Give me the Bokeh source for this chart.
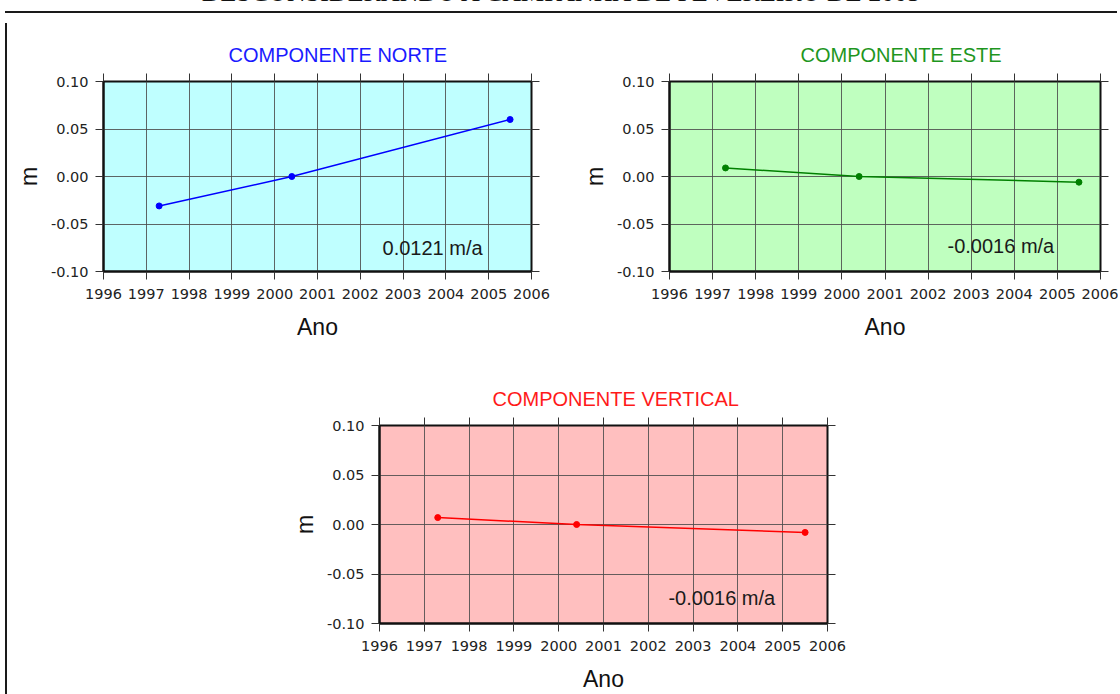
from bokeh.plotting import figure
from bokeh.models import (Range1d, FixedTicker, PrintfTickFormatter, LinearAxis, Label, Div,
                          ColumnDataSource, CustomJSTickFormatter)
from bokeh.layouts import column, row
from bokeh.embed import file_html
from bokeh.resources import INLINE

# ---------------- data ----------------
page_title = "DESCONSIDERANDO A CAMPANHA DE FEVEREIRO DE 2005"
x_ticks = [1996, 1997, 1998, 1999, 2000, 2001, 2002, 2003, 2004, 2005, 2006]
y_ticks = [-0.10, -0.05, 0.00, 0.05, 0.10]
years = [1997.3, 2000.4, 2005.5]
norte = [-0.031, 0.000, 0.060]
este = [0.009, 0.000, -0.006]
vertical = [0.007, 0.000, -0.008]
rates = ["0.0121 m/a", "-0.0016 m/a", "-0.0016 m/a"]
titles = ["COMPONENTE NORTE", "COMPONENTE ESTE", "COMPONENTE VERTICAL"]
x_label = "Ano"
y_label = "m"

SANS = "Liberation Sans"
TICKFONT = "DejaVu Sans"


def panel(title, tcolor, bg, lcolor, ys, rate, width, height, bl, br, bt, bb,
          toff, rate_pos):
    p = figure(width=width, height=height, x_range=Range1d(1996, 2006),
               y_range=Range1d(-0.10, 0.10), output_backend="svg",
               toolbar_location=None, min_border_left=bl, min_border_right=br,
               min_border_top=bt, min_border_bottom=bb)
    p.background_fill_color = bg
    p.border_fill_color = "white"
    p.outline_line_color = "#111111"
    p.outline_line_width = 2
    p.title.text = title
    p.title.align = "left"
    p.title.offset = toff
    p.title.text_color = tcolor
    p.title.text_font = SANS
    p.title.text_font_size = "20px"
    p.title.text_font_style = "normal"
    p.title.standoff = 16

    xa = p.xaxis[0]
    ya = p.yaxis[0]
    xa.ticker = FixedTicker(ticks=x_ticks)
    ya.ticker = FixedTicker(ticks=y_ticks)
    xa.formatter = PrintfTickFormatter(format="%d")
    ya.formatter = PrintfTickFormatter(format="%.2f")
    for ax in (xa, ya):
        ax.major_tick_out = 8
        ax.major_tick_in = 0
        ax.minor_tick_out = 0
        ax.minor_tick_in = 0
        ax.major_tick_line_color = "#333333"
        ax.axis_line_color = "#111111"
        ax.axis_line_width = 2
        ax.major_label_text_font = TICKFONT
        ax.major_label_text_font_size = "14.5px"
        ax.major_label_text_color = "#222222"
        ax.axis_label_text_font = SANS
        ax.axis_label_text_font_size = "23px"
        ax.axis_label_text_font_style = "normal"
        ax.axis_label_text_color = "#111111"
    xa.axis_label = x_label
    ya.axis_label = y_label
    xa.major_label_standoff = 9
    ya.major_label_standoff = 7
    xa.axis_label_standoff = 12
    ya.axis_label_standoff = 6

    blank = CustomJSTickFormatter(code="return ''")
    top = LinearAxis(ticker=FixedTicker(ticks=x_ticks), formatter=blank,
                     major_tick_out=8, major_tick_in=0, minor_tick_out=0, minor_tick_in=0,
                     axis_line_color=None, major_tick_line_color="#333333",
                     major_label_standoff=0)
    right = LinearAxis(ticker=FixedTicker(ticks=y_ticks), formatter=blank,
                       major_tick_out=8, major_tick_in=0, minor_tick_out=0, minor_tick_in=0,
                       axis_line_color=None, major_tick_line_color="#333333",
                       major_label_standoff=0)
    p.add_layout(top, "above")
    p.add_layout(right, "right")

    p.grid.grid_line_color = "#4a4a4a"
    p.grid.grid_line_alpha = 0.85
    p.grid.grid_line_width = 1
    p.xgrid.ticker = FixedTicker(ticks=x_ticks)
    p.ygrid.ticker = FixedTicker(ticks=y_ticks)

    src = ColumnDataSource(data=dict(x=years, y=ys))
    p.line("x", "y", source=src, line_color=lcolor, line_width=1.5)
    p.scatter("x", "y", source=src, size=6, fill_color=lcolor, line_color=lcolor)

    p.add_layout(Label(x=rate_pos[0], y=rate_pos[1], text=rate, text_font=SANS,
                       text_font_size="20px", text_color="#1a1a1a",
                       text_align="left", text_baseline="alphabetic"))
    return p


p1 = panel(titles[0], "#1a1aff", "#bfffff", "#0000ff", norte, rates[0],
           548, 342, 88, 29, 63, 86, 125, (2002.52, -0.075))
p2 = panel(titles[1], "#1e961e", "#bfffbf", "#008000", este, rates[1],
           558, 342, 109, 18, 61, 89, 131, (2002.45, -0.073))
p3 = panel(titles[2], "#ff1a1a", "#ffbfbf", "#ff0000", vertical, rates[2],
           855, 334, 367, 40, 65, 64, 113, (2002.45, -0.074))

title_div = Div(text=page_title, width=1112, height=21,
                styles={"font-family": "'Liberation Serif', serif", "font-size": "26px",
                        "font-weight": "normal",
                        "line-height": "26px", "text-align": "center", "color": "#111111",
                        "overflow": "hidden", "white-space": "nowrap"})
top_line = Div(text="", width=1112, height=2, styles={"background-color": "#1a1a1a"})
left_line = Div(text="", width=2, height=676, styles={"background-color": "#1a1a1a"})

root = column(title_div, top_line,
              row(left_line, column(row(p1, p2), p3)),
              styles={"margin-top": "-25px", "margin-left": "0px", "margin-bottom": "-14px"})

open("out.html", "w").write(file_html(root, INLINE))
